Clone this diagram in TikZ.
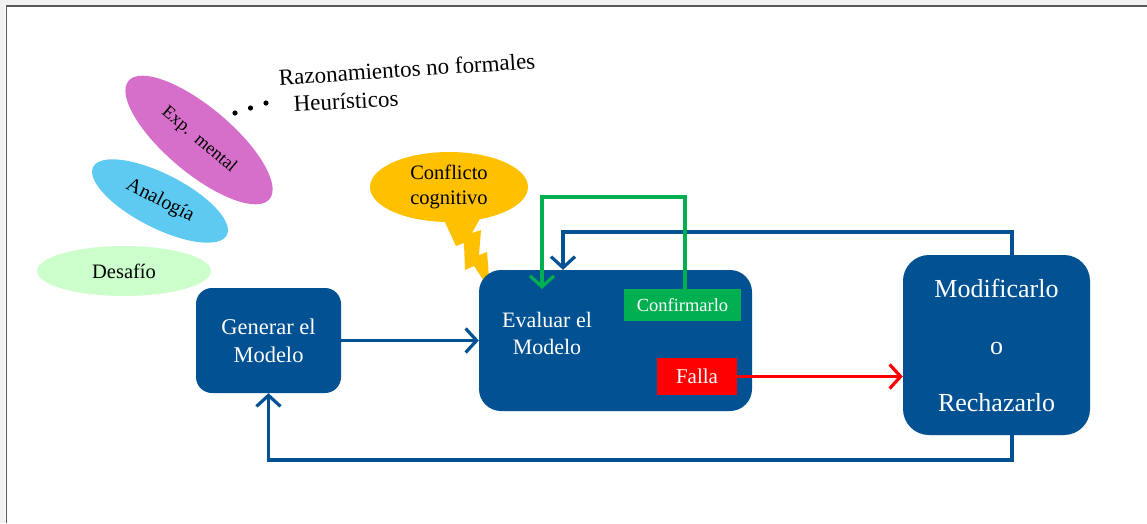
\documentclass[tikz,border=0pt]{standalone}
\usepackage{fontspec}
\setmainfont{Liberation Serif}
\usetikzlibrary{shapes.geometric,arrows.meta,calc}
\definecolor{mblue}{RGB}{2,81,146}
\definecolor{mgreen}{RGB}{0,176,80}
\definecolor{myellow}{RGB}{255,192,0}
\definecolor{morchid}{RGB}{214,111,201}
\definecolor{mcyan}{RGB}{94,202,242}
\definecolor{mmint}{RGB}{204,255,204}
\definecolor{mred}{RGB}{255,0,0}
\tikzset{
  bigbox/.style={draw=none,fill=mblue,rounded corners=#1,text=white,align=center,inner sep=0pt},
  tagbox/.style={fill=#1,text=white,inner sep=0pt},
  blob/.style={ellipse,fill=#1,inner sep=0pt},
  conn/.style={line width=3.2pt,-{Straight Barb[length=11pt,width=24pt,line width=3.2pt]}},
}
\begin{document}
\begin{tikzpicture}[x=1pt,y=-1pt]
\useasboundingbox (0,0) rectangle (1147,523);
% frame
\fill[gray!10] (0,0) rectangle (1147,5);
\fill[gray!10] (0,0) rectangle (5,523);
\draw[line width=1.5pt,gray!70!black] (6.5,523) -- (6.5,6) -- (1147,6);

% ellipses on the left
\node[blob=mmint,minimum width=174pt,minimum height=50pt,font=\fontsize{20.5}{24}\selectfont] (des) at (124,271) {Desafío};
\node[blob=mcyan,minimum width=150pt,minimum height=54pt,rotate=-27,font=\fontsize{20}{24}\selectfont] (ana) at (160,201) {Analogía};
\node[blob=morchid,minimum width=184pt,minimum height=66pt,rotate=-40,font=\fontsize{18}{20}\selectfont] (exp) at (199,140) {Exp.\ \ mental};

% dots and texts
\fill (235,113) circle (2.6pt) coordinate (d1);
\fill (250.5,108) circle (2.6pt) coordinate (d2);
\fill (266,103) circle (2.6pt) coordinate (d3);
\node[rotate=3.8,inner sep=0pt,font=\fontsize{23}{27}\selectfont] (raz) at (407,69) {Razonamientos no formales};
\node[rotate=3,inner sep=0pt,font=\fontsize{23}{27}\selectfont] (heu) at (346,101) {Heurísticos};

% conflict callout
\fill[myellow] (443,218) -- (456,246) -- (464,243) -- (465,270) -- (474,266) -- (490,290) -- (487,252) -- (479,255) -- (481,230) -- (472,233) -- (482,215) -- cycle;
\node[blob=myellow,minimum width=158pt,minimum height=70pt,align=center,font=\fontsize{20.5}{25}\selectfont] (con) at (449,187) {Conflicto\\cognitivo};

% main boxes
\node[bigbox=16pt,minimum width=145pt,minimum height=105pt,font=\fontsize{22.5}{28}\selectfont] (gen) at (268.5,340.5) {Generar el\\Modelo};
\node[bigbox=22pt,minimum width=273pt,minimum height=141pt] (eval) at (615.5,340.5) {};
\node[text=white,align=center,inner sep=0pt,font=\fontsize{22}{27}\selectfont] (evt) at (547,333) {Evaluar el\\Modelo};
\node[bigbox=26pt,minimum width=187pt,minimum height=180pt,font=\fontsize{26}{30}\selectfont] (mod) at (996.5,345) {Modificarlo\\[27pt]o\\[27pt]Rechazarlo};
\node[tagbox=mgreen,minimum width=117pt,minimum height=32pt,font=\fontsize{18.5}{21}\selectfont] (conf) at (682.5,305) {Confirmarlo};
\node[tagbox=mred,minimum width=80pt,minimum height=37pt,font=\fontsize{21}{24}\selectfont] (fal) at (697,376.5) {Falla};

% helper coordinates
\coordinate (xr) at (1012,0);
\coordinate (yb) at (0,460);
\coordinate (tl) at (563,232);
\coordinate (gl) at (542,197);
\coordinate (gr) at (685,197);
\coordinate (gend) at (542,289);

% connectors
\draw[conn,mblue] (gen) -- (eval);
\draw[conn,mred] (fal.east) -- (fal.east -| mod.west);
\draw[conn,mblue] (mod.south -| xr) -- (yb -| xr) -- (yb -| gen.south) -- (gen.south);
\draw[conn,mblue] (mod.north -| xr) |- (tl) -- (eval.north -| tl);
\draw[conn,mgreen] (conf.north -| gr) -- (gr) -- (gl) -- (gend);
\end{tikzpicture}
\end{document}
